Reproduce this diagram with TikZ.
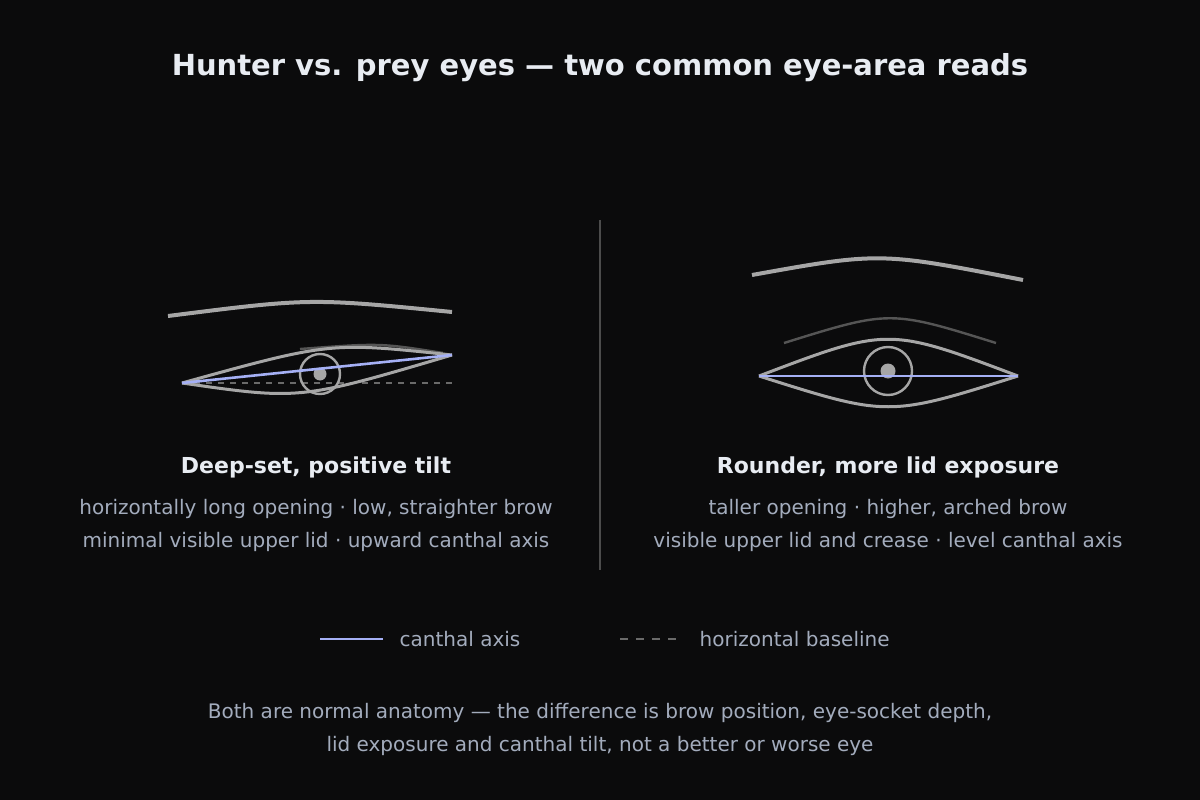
\documentclass[tikz,border=0pt]{standalone}
\usepackage{fontspec}
\setmainfont{DejaVu Sans}
\definecolor{bgc}{HTML}{0B0B0C}
\definecolor{titlec}{HTML}{E8ECF2}
\definecolor{textc}{HTML}{A3ACBD}
\definecolor{lidc}{HTML}{A6A6A6}
\definecolor{creasec}{HTML}{555555}
\definecolor{axisc}{HTML}{A5B0F5}
\definecolor{basec}{HTML}{6A6A6A}
\tikzset{every picture/.style={line width=0.75pt}}
\tikzset{
  lid/.style={draw=lidc, line width=3pt},
  brow/.style={draw=lidc, line width=4pt},
  crease/.style={draw=creasec, line width=2.4pt},
  axis/.style={draw=axisc, line width=2.6pt},
  base/.style={draw=basec, line width=1.6pt, dash pattern=on 6pt off 6pt},
  body/.style={text=textc, font=\fontsize{20}{33}\selectfont, align=center},
  head/.style={text=titlec, font=\fontsize{22}{26}\selectfont\bfseries}
}
\begin{document}
\begin{tikzpicture}[x=1pt,y=-1pt]
\fill[bgc] (0,0) rectangle (1200,800);
\useasboundingbox (0,0) rectangle (1200,800);

% Title
\node (title) at (600,68) [text=titlec, font=\fontsize{29}{32}\selectfont\bfseries] {Hunter vs. prey eyes — two common eye-area reads};

% Divider
\coordinate (divtop) at (600,220);
\coordinate (divbot) at (600,570);
\draw[draw=gray!60!black, line width=1.4pt] (divtop) -- (divbot);

% Left eye
\coordinate (linner) at (182,383);
\coordinate (louter) at (452,355);
\draw[brow] (168,316) .. controls (310,298) .. (452,312);
\draw[crease] (300,349) .. controls (380,343) .. (443,353);
\draw[base] (linner) -- (452,383);
\draw[lid] (linner) .. controls (330,342) .. (louter);
\draw[lid] (linner) .. controls (300,400) .. (louter);
\node (liris) at (320,374) [circle, draw=lidc, line width=2.4pt, minimum size=40pt, inner sep=0pt] {};
\fill[lidc] (liris.center) circle (6.5pt);
\draw[axis] (linner) -- (louter);

% Right eye
\coordinate (rinner) at (759,376);
\coordinate (router) at (1018,376);
\draw[brow] (752,275) .. controls (880,252) .. (1023,280);
\draw[crease] (784,343) .. controls (890,310) .. (996,343);
\draw[lid] (rinner) .. controls (888,327) .. (router);
\draw[lid] (rinner) .. controls (888,417) .. (router);
\node (riris) at (888,371) [circle, draw=lidc, line width=2.4pt, minimum size=48pt, inner sep=0pt] {};
\fill[lidc] (riris.center) circle (7.5pt);
\draw[axis] (rinner) -- (router);

% Captions
\node (lhead) at (316,467) [head] {Deep-set, positive tilt};
\node (lbody) at (316,525) [body] {horizontally long opening · low, straighter brow\\minimal visible upper lid · upward canthal axis};
\node (rhead) at (888,467) [head] {Rounder, more lid exposure};
\node (rbody) at (888,525) [body] {taller opening · higher, arched brow\\visible upper lid and crease · level canthal axis};

% Legend
\coordinate (ka) at (320,639);
\coordinate (kb) at (383,639);
\draw[axis] (ka) -- (kb);
\node (axistxt) at (396,639) [body, anchor=west] {canthal axis};
\coordinate (kc) at (620,639);
\coordinate (kd) at (678,639);
\draw[base, dash pattern=on 8pt off 8pt] (kc) -- (kd);
\node (basetxt) at (696,639) [body, anchor=west] {horizontal baseline};

% Footer
\node (foot) at (600,729) [body] {Both are normal anatomy — the difference is brow position, eye-socket depth,\\lid exposure and canthal tilt, not a better or worse eye};
\end{tikzpicture}
\end{document}
